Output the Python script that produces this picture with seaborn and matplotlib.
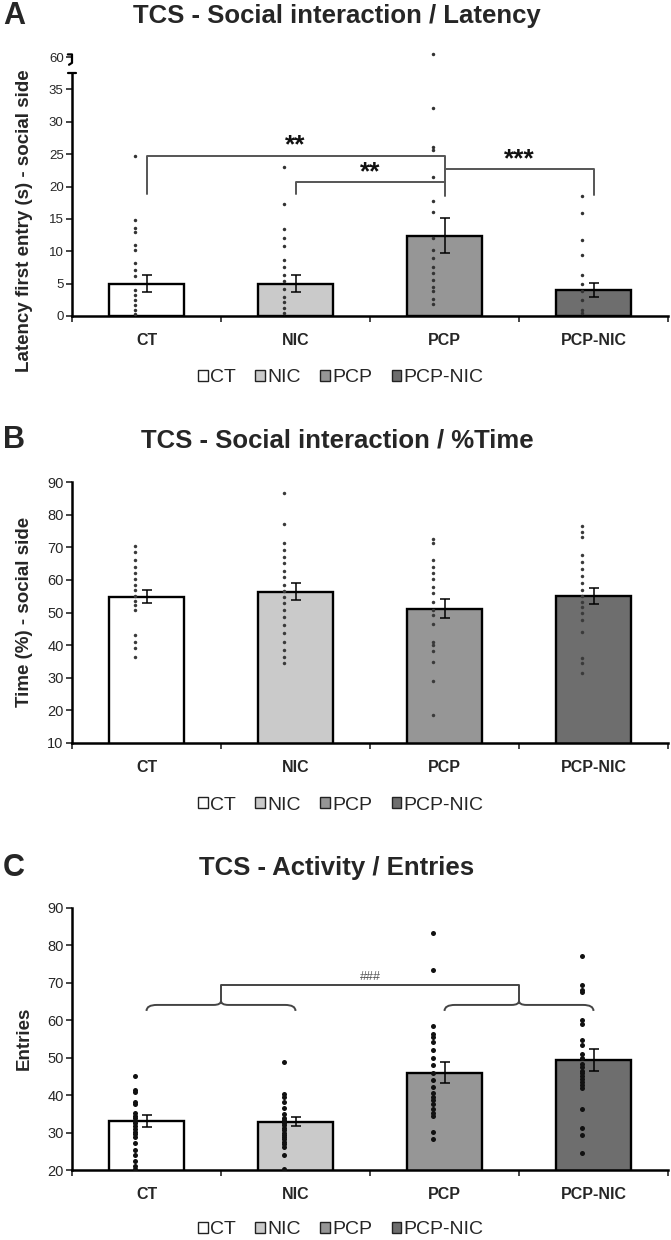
import numpy as np
import pandas as pd
import matplotlib
matplotlib.use("Agg")
import matplotlib.pyplot as plt
import seaborn as sns
from matplotlib.path import Path
from matplotlib.patches import PathPatch, Patch

groups = ["CT", "NIC", "PCP", "PCP-NIC"]
bar_colors = ["#ffffff", "#cacaca", "#969696", "#6e6e6e"]

# A - latency to first entry (s); 60.5 sits above the axis break
lat_mean = [5.0, 5.0, 12.4, 4.0]
lat_sem = [1.3, 1.3, 2.7, 1.05]
lat_ct = [24.7, 14.8, 13.6, 13.0, 10.9, 10.2, 8.2, 7.1, 6.2, 4.0, 3.3, 2.4, 1.7, 0.9, 0.3]
lat_nic = [23.0, 17.3, 13.4, 12.1, 10.8, 8.6, 7.6, 6.4, 5.4, 4.2, 3.0, 2.1, 1.2, 0.4]
lat_pcp = [60.5, 32.1, 26.1, 25.6, 21.5, 17.7, 16.1, 12.0, 10.2, 8.9, 7.6, 6.6, 5.5, 4.5, 3.8, 2.7, 1.9]
lat_pcpnic = [18.6, 15.9, 11.8, 9.4, 6.3, 5.0, 3.8, 2.5, 1.0, 0.4]

# B - % time on social side
time_mean = [54.8, 56.3, 51.2, 55.1]
time_sem = [2.0, 2.6, 2.8, 2.4]
time_ct = [70.4, 68.6, 66.1, 64.0, 62.0, 60.2, 58.4, 56.9, 55.1, 53.6, 52.3, 50.8, 43.1, 41.1, 39.0, 36.5]
time_nic = [86.7, 77.1, 71.4, 69.2, 67.1, 65.1, 62.8, 61.0, 58.4, 56.7, 54.7, 52.8, 50.8, 48.7,
            46.2, 43.6, 41.1, 38.5, 36.5, 34.6]
time_pcp = [72.4, 71.2, 66.1, 64.0, 62.2, 60.2, 57.9, 55.9, 53.3, 50.8, 49.2, 46.5, 41.1, 40.0,
            38.3, 34.9, 29.0, 18.6]
time_pcpnic = [76.5, 74.8, 73.2, 67.6, 65.6, 63.2, 61.2, 59.1, 56.9, 55.1, 53.3, 51.8, 49.8, 47.7,
               44.1, 36.0, 34.6, 31.4]

# C - entries
ent_mean = [33.0, 32.9, 46.0, 49.4]
ent_sem = [1.6, 1.2, 2.75, 2.9]
ent_ct = [45.2, 41.5, 40.8, 38.2, 37.5, 35.2, 34.5, 34.0, 33.2, 32.5, 31.8, 31.0, 30.2, 29.5,
          28.8, 27.2, 25.4, 23.9, 22.5, 21.2, 20.3]
ent_nic = [48.9, 40.2, 39.6, 38.3, 36.5, 35.0, 34.0, 33.3, 32.6, 32.0, 31.3, 30.6, 30.0, 29.3,
           28.8, 28.2, 27.6, 27.0, 26.2, 24.0, 20.3]
ent_pcp = [83.3, 73.3, 58.4, 56.4, 55.6, 54.3, 52.1, 49.8, 48.0, 45.8, 44.0, 42.2, 40.5, 39.6,
           38.7, 37.5, 36.2, 35.2, 34.5, 30.2, 28.2]
ent_pcpnic = [77.2, 69.4, 68.1, 67.6, 60.1, 59.0, 54.7, 53.4, 51.1, 49.8, 48.4, 47.5, 46.5, 45.8,
              45.0, 44.2, 43.5, 42.8, 42.0, 36.2, 31.1, 29.3, 24.5]

sns.set_theme(style="ticks")
plt.rcParams["font.family"] = ["Liberation Sans", "DejaVu Sans"]

fig = plt.figure(figsize=(6.71, 12.4), dpi=100)
W, H = 671, 1240


def long_df(lists):
    rows = []
    for g, vals in zip(groups, lists):
        for v in vals:
            rows.append((g, v))
    return pd.DataFrame(rows, columns=["group", "value"])


def panel(rect, means, sems, points, dot_size, dot_color, tick_fs):
    ax = fig.add_axes(rect)
    sns.barplot(x=groups, y=means, hue=groups, order=groups, palette=bar_colors, legend=False,
                edgecolor="black", linewidth=1.7, width=0.5, errorbar=None, ax=ax, zorder=2)
    n0 = len(ax.collections)
    sns.stripplot(data=points, x="group", y="value", order=groups, jitter=False,
                  color=dot_color, size=dot_size, linewidth=0, ax=ax, zorder=3)
    # dots sit a little left of the bar centre
    for coll in ax.collections[n0:]:
        offs = coll.get_offsets()
        offs[:, 0] -= 0.075
        coll.set_offsets(offs)
    ax.errorbar(range(4), means, yerr=sems, fmt="none", ecolor="black", elinewidth=1.1,
                capsize=3.5, capthick=1.1, zorder=5)
    ax.set_xlim(-0.5, 3.5)
    ax.set_xlabel("")
    ax.set_ylabel("")
    ax.set_xticks(range(4))
    ax.set_xticklabels(groups, fontweight="bold", fontsize=11.5)
    ax.set_xticks(np.arange(-0.5, 4, 1), minor=True)
    ax.tick_params(axis="x", which="major", length=0, pad=12)
    ax.tick_params(axis="x", which="minor", length=4, width=1.2, direction="out")
    ax.tick_params(axis="y", length=4, width=1.2, direction="out", labelsize=tick_fs, pad=2)
    sns.despine(ax=ax)
    for s in ["left", "bottom"]:
        ax.spines[s].set_linewidth(1.8)
        ax.spines[s].set_color("black")
    return ax


def legend_at(yfrac):
    handles = [Patch(facecolor=c, edgecolor="#222222", linewidth=1.0) for c in bar_colors]
    fig.legend(handles, groups, loc="center", bbox_to_anchor=(0.508, yfrac), ncol=4,
               frameon=False, handlelength=0.5, handleheight=0.5, handletextpad=0.12,
               columnspacing=1.0, fontsize=14)


def header(letter, title, ypix):
    y = 1 - ypix / H
    fig.text(14 / W, y, letter, fontsize=22, fontweight="bold", ha="center", va="center")
    fig.text(0.502, y, title, fontsize=18.5, fontweight="bold", ha="center", va="center")


# ---------------- panel A ----------------
lat_pts = long_df([lat_ct, lat_nic, lat_pcp, lat_pcpnic])
lat_pts["value"] = np.where(lat_pts["value"] > 37, lat_pts["value"] - 20, lat_pts["value"])
pxA = 6.475
axA = panel([72 / W, 1 - 316 / H, 596 / W, 41.2 * pxA / H], lat_mean, lat_sem, lat_pts,
            2.5, "#333333", 9.5)
axA.set_ylim(0, 41.2)
axA.set_yticks(list(range(0, 40, 5)) + [40])
axA.set_yticklabels([str(v) for v in range(0, 40, 5)] + ["60"])
axA.spines["left"].set_bounds(0, 37.5)
tr = axA.get_yaxis_transform()
axA.plot([-0.007, 0.007], [37.5, 37.5], transform=tr, color="black", lw=1.6, clip_on=False)
axA.plot([-0.007, 0, 0, -0.005], [40.4, 40.4, 39.1, 38.8], transform=tr, color="black",
         lw=1.6, clip_on=False)

br = dict(color="#555555", lw=1.4, zorder=6)
axA.plot([0, 0, 2, 2], [18.8, 24.7, 24.7, 18.5], **br)
axA.plot([1, 1, 2], [18.8, 20.7, 20.7], **br)
axA.plot([2, 3, 3], [22.7, 22.7, 18.7], **br)
star = dict(ha="center", va="center", fontsize=19, fontweight="bold", color="#111111")
axA.text(1.0, 26.3, "**", **star)
axA.text(1.5, 22.2, "**", **star)
axA.text(2.5, 24.2, "***", **star)

header("A", "TCS - Social interaction / Latency", 16)
fig.text(0.036, 1 - 221 / H, "Latency first entry (s) - social side", rotation=90,
         fontsize=13.5, fontweight="bold", ha="center", va="center")
legend_at(1 - 378 / H)

# ---------------- panel B ----------------
pxB = 3.2625
axB = panel([72 / W, 1 - 743 / H, 596 / W, 81 * pxB / H], time_mean, time_sem,
            long_df([time_ct, time_nic, time_pcp, time_pcpnic]), 2.5, "#3a3a3a", 10.5)
axB.set_ylim(10, 91)
axB.set_yticks(range(10, 91, 10))
axB.spines["left"].set_bounds(10, 90)
header("B", "TCS - Social interaction / %Time", 440)
fig.text(0.036, 1 - 612 / H, "Time (%) - social side", rotation=90,
         fontsize=13.5, fontweight="bold", ha="center", va="center")
legend_at(1 - 805 / H)

# ---------------- panel C ----------------
pxC = 3.743
axC = panel([72 / W, 1 - 1170 / H, 596 / W, 71 * pxC / H], ent_mean, ent_sem,
            long_df([ent_ct, ent_nic, ent_pcp, ent_pcpnic]), 3.6, "#111111", 10.5)
axC.set_ylim(20, 91)
axC.set_yticks(range(20, 91, 10))
axC.spines["left"].set_bounds(20, 90)


def brace(ax, x0, x1, y_end, y_flat, y_tip):
    xm = (x0 + x1) / 2
    verts = [(x0, y_end), (x0, y_flat), (x0 + 0.07, y_flat),
             (xm - 0.05, y_flat), (xm, y_flat), (xm, y_tip),
             (xm, y_flat), (xm + 0.05, y_flat),
             (x1 - 0.07, y_flat), (x1, y_flat), (x1, y_end)]
    codes = [Path.MOVETO, Path.CURVE3, Path.CURVE3,
             Path.LINETO, Path.CURVE3, Path.CURVE3,
             Path.CURVE3, Path.CURVE3,
             Path.LINETO, Path.CURVE3, Path.CURVE3]
    ax.add_patch(PathPatch(Path(verts, codes), fill=False, edgecolor="#444444", lw=1.4,
                           zorder=6))


brace(axC, 0, 1, 62.5, 64.1, 65.2)
brace(axC, 2, 3, 62.5, 64.1, 65.2)
axC.plot([0.5, 0.5, 2.5, 2.5], [65.2, 69.4, 69.4, 65.2], color="#444444", lw=1.4, zorder=6)
axC.text(1.5, 71.6, "###", ha="center", va="center", fontsize=9, color="#555555")

header("C", "TCS - Activity / Entries", 868)
fig.text(0.036, 1 - 1038 / H, "Entries", rotation=90,
         fontsize=13.5, fontweight="bold", ha="center", va="center")
legend_at(1 - 1230 / H)

fig.savefig("out.png", dpi=100)
